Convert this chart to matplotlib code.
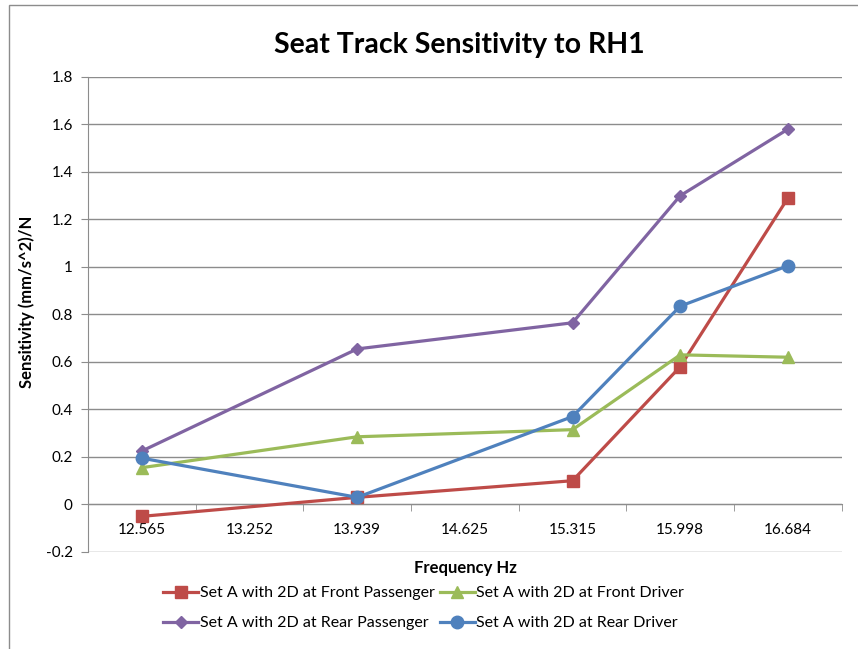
import matplotlib.pyplot as plt
import matplotlib.patches as mpatches
import numpy as np

plt.rcParams['font.family'] = ['Lato', 'DejaVu Sans']

freqs = ['12.565', '13.252', '13.939', '14.625', '15.315', '15.998', '16.684']
# no measurement at 13.252 and 14.625 -> None, lines are joined across the gap
front_passenger = [-0.05, None, 0.03, None, 0.10, 0.58, 1.29]
front_driver = [0.155, None, 0.285, None, 0.315, 0.63, 0.62]
rear_passenger = [0.225, None, 0.655, None, 0.765, 1.30, 1.58]
rear_driver = [0.195, None, 0.03, None, 0.37, 0.835, 1.005]

series = [
    ('Set A with 2D at Front Passenger', front_passenger, '#BE4B48', 's', 8),
    ('Set A with 2D at Rear Passenger', rear_passenger, '#8064A2', 'D', 6),
    ('Set A with 2D at Front Driver', front_driver, '#9BBB59', '^', 9),
    ('Set A with 2D at Rear Driver', rear_driver, '#4F81BD', 'o', 9),
]

fig = plt.figure(figsize=(8.58, 6.49), dpi=100)
ax = fig.add_axes([0.1026, 0.1495, 0.8784, 0.7319])

x = np.arange(len(freqs))
handles = []
for name, vals, col, mk, ms in series:
    xs = [xi for xi, v in zip(x, vals) if v is not None]
    ys = [v for v in vals if v is not None]
    h, = ax.plot(xs, ys, color=col, lw=2.3, marker=mk, ms=ms,
                 markeredgecolor=col, label=name, zorder=3)
    handles.append(h)

ax.set_xlim(-0.5, len(freqs) - 0.5)
ax.set_ylim(-0.2, 1.8)
ax.set_yticks(np.arange(-0.2, 1.81, 0.2))
ax.set_yticklabels(['-0.2', '0', '0.2', '0.4', '0.6', '0.8', '1', '1.2', '1.4', '1.6', '1.8'])
ax.grid(axis='y', color='#8C8C8C', lw=1)
ax.set_axisbelow(True)

ax.set_xticks(x)
ax.set_xticklabels(freqs)
ax.set_xticks(np.arange(-0.5, len(freqs)), minor=True)
ax.tick_params(axis='x', which='major', length=0, pad=13, labelsize=11)
ax.tick_params(axis='x', which='minor', length=5, color='#8C8C8C', direction='out')
ax.tick_params(axis='y', length=5, color='#8C8C8C', labelsize=11, pad=6)

for s in ['top', 'right']:
    ax.spines[s].set_visible(False)
ax.spines['bottom'].set_position(('data', 0))
ax.spines['bottom'].set_color('#8C8C8C')
ax.spines['left'].set_color('#8C8C8C')

fig.text(0.535, 0.93, 'Seat Track Sensitivity to RH1', ha='center', va='center',
         fontsize=20.5, fontweight='bold')
fig.text(0.542, 0.125, 'Frequency Hz', ha='center', va='center',
         fontsize=12, fontweight='bold')
fig.text(0.031, 0.535, 'Sensitivity (mm/s^2)/N', ha='center', va='center',
         rotation=90, fontsize=12, fontweight='bold')

fig.legend(handles=handles, loc='center', bbox_to_anchor=(0.494, 0.063), ncol=2,
           frameon=False, fontsize=11.5, handlelength=2.2, handletextpad=0.1,
           columnspacing=0.3, labelspacing=1.0)

# outer chart frame
fig.patches.append(mpatches.Rectangle((9 / 858, -0.1), 1.2, 1 - 5 / 649 + 0.1,
                                      transform=fig.transFigure, fill=False,
                                      edgecolor='#8C8C8C', lw=1))

fig.savefig('out.png', dpi=100)
